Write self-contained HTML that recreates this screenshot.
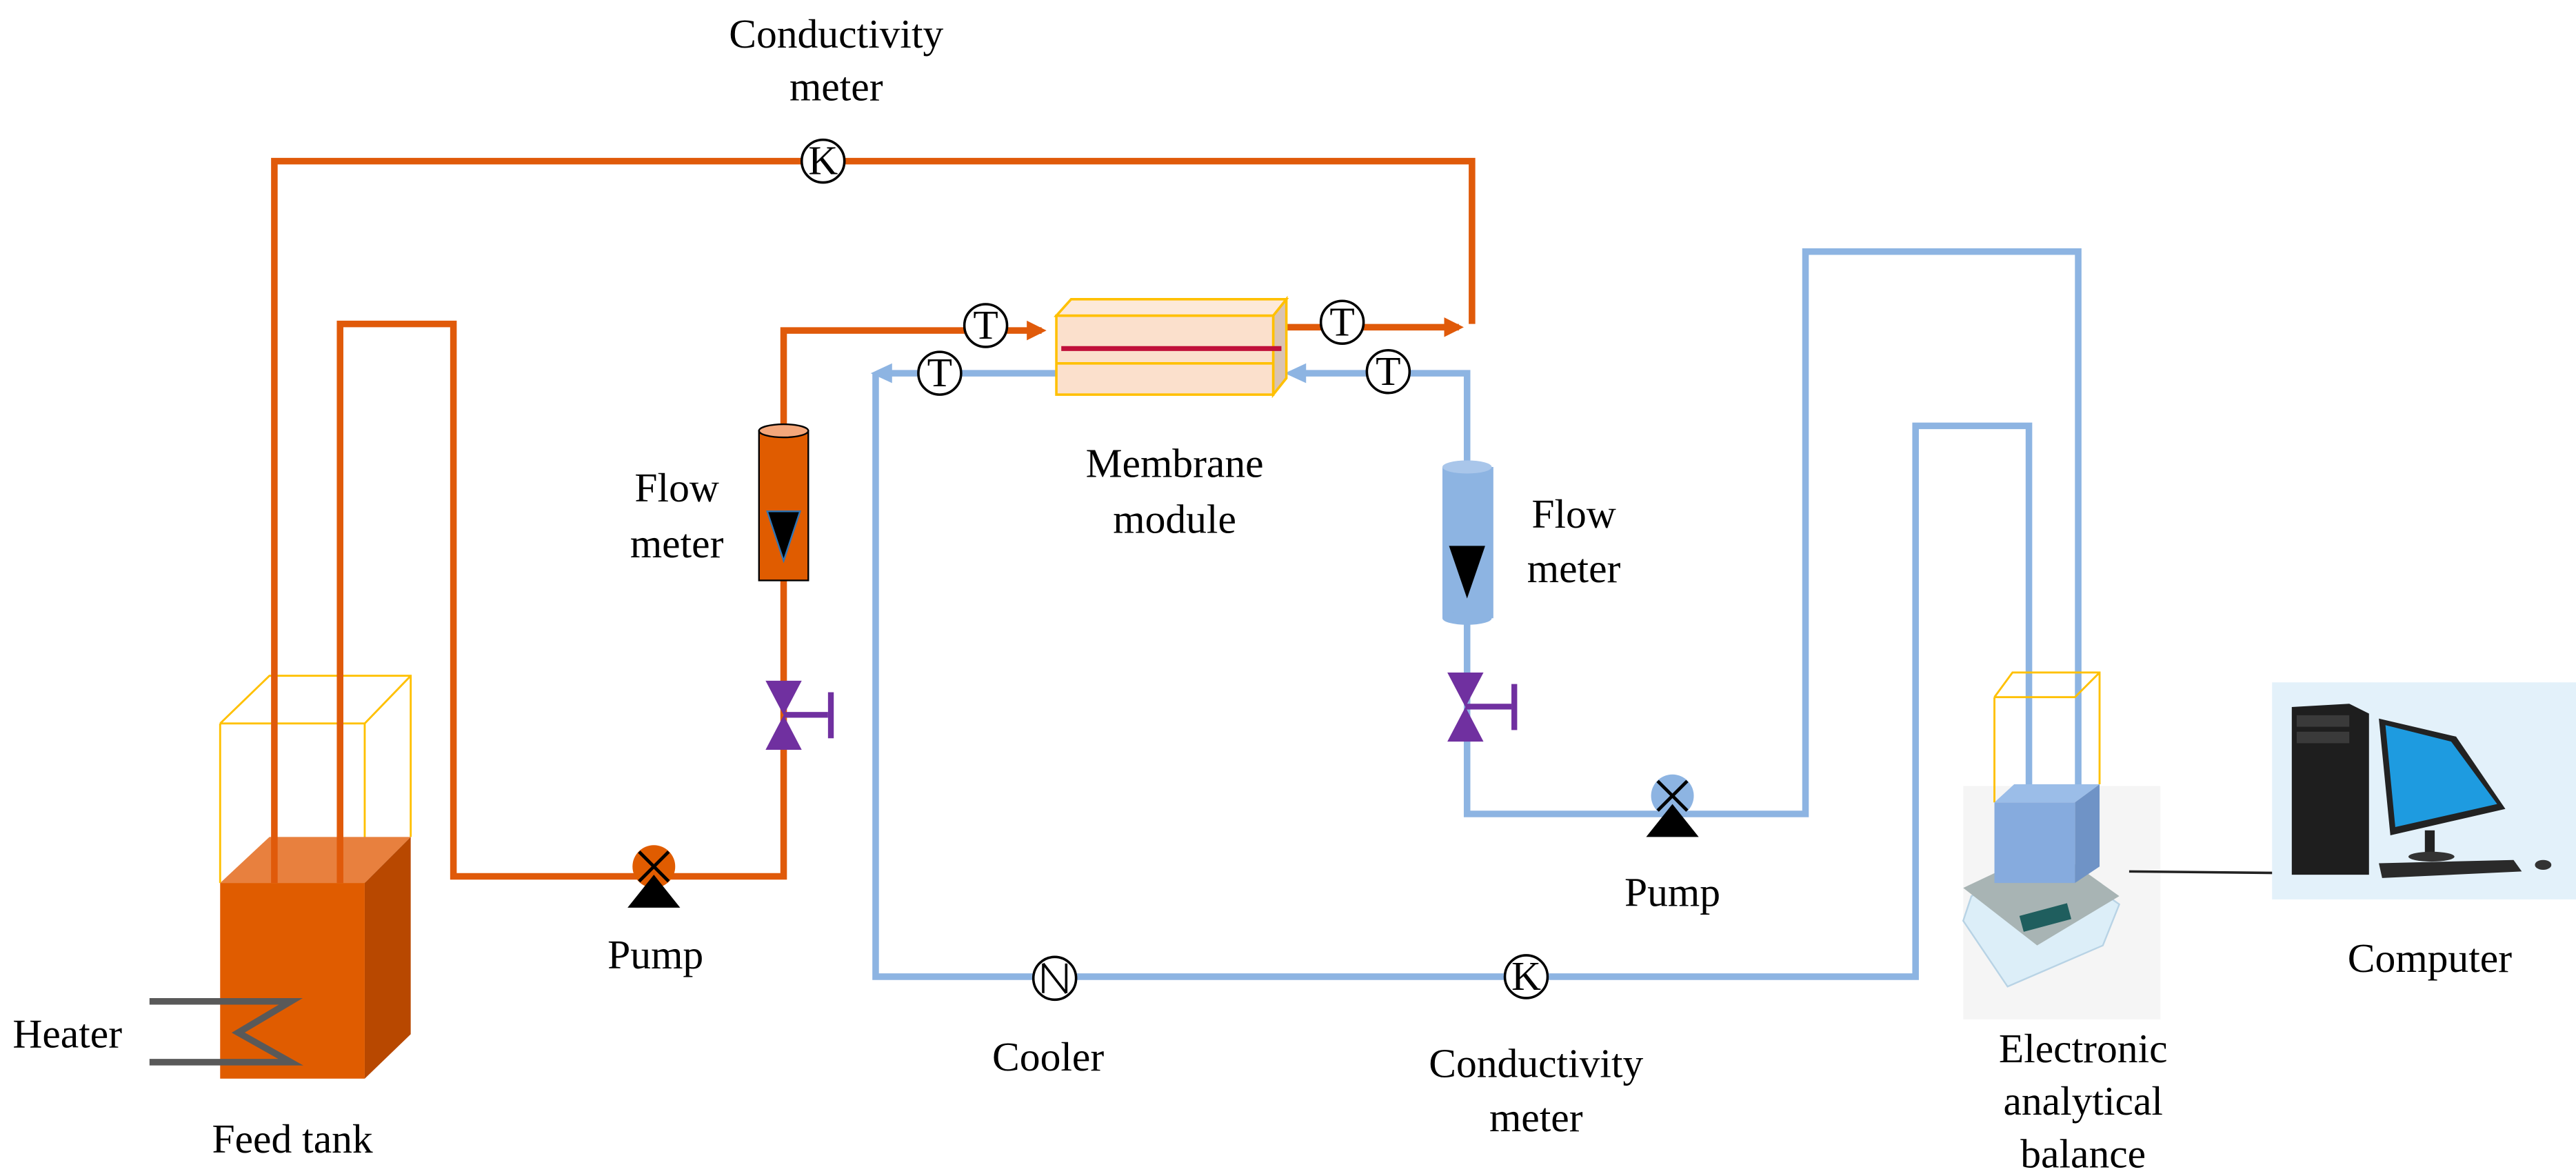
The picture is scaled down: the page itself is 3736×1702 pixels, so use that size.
<!DOCTYPE html>
<html><head><meta charset="utf-8"><style>
html,body{margin:0;padding:0;background:#fff}
svg{display:block}
text{font-family:"Liberation Serif","Times New Roman","DejaVu Serif",serif;font-size:25px;fill:#000}
</style></head><body>
<svg width="3736" height="1702" viewBox="0 0 1568 714" preserveAspectRatio="none" xmlns="http://www.w3.org/2000/svg" font-family="Liberation Serif, Times New Roman, DejaVu Serif, serif">
<rect width="1568" height="714" fill="#fff"/>
<defs>
<marker id="ao" markerWidth="12" markerHeight="12" refX="9" refY="6" orient="auto" markerUnits="userSpaceOnUse"><path d="M0,0 L12,6 L0,12 Z" fill="#E05A0A"/></marker>
</defs>
<g fill="none" stroke="#FFC000" stroke-width="1.2">
<path d="M134,440 L164,411 L250,411 L250,509 M134,440 L222,440 L250,411 M134,440 L134,537 M222,440 L222,537"/>
</g>
<polygon points="134,537 164,509 250,509 222,537" fill="#E8803E"/>
<polygon points="222,537 250,509 250,629 222,656" fill="#B84800"/>
<rect x="134" y="537" width="88" height="119" fill="#E05C00"/>
<g fill="none" stroke="#E05A0A" stroke-width="4">
<path d="M167,537 L167,98 L896,98 L896,197"/>
<path d="M207,537 L207,197 L276,197 L276,533 L477,533 L477,201 L634,201" marker-end="url(#ao)"/>
<path d="M783,199 L888,199" marker-end="url(#ao)"/>
</g>
<path d="M91,609 L177,609 L145,628 L177,646 L91,646" fill="none" stroke="#595959" stroke-width="4"/>
<g fill="none" stroke="#8DB4E2" stroke-width="4">
<path d="M643,227 L542,227 M533,227 L533,594 L1166,594 L1166,259 L1235,259 L1235,480"/>
<path d="M893,281 L893,227 L794,227"/>
<path d="M893,379 L893,495 L1099,495 L1099,153 L1265,153 L1265,480"/>
</g>
<path d="M530,227 L543,221 L543,233 Z" fill="#8DB4E2"/>
<path d="M782,227 L795,221 L795,233 Z" fill="#8DB4E2"/>
<polygon points="643,192 652,182 783,182 775,192" fill="#FDE9D9" stroke="#FFC000" stroke-width="1.5"/>
<polygon points="775,192 783,182 783,230 775,240" fill="#D9C3B3" stroke="#FFC000" stroke-width="1.5"/>
<rect x="643" y="192" width="132" height="48" fill="#FBE0CC" stroke="#FFC000" stroke-width="1.5"/>
<line x1="643" y1="221" x2="775" y2="221" stroke="#FFC000" stroke-width="1.5"/>
<line x1="646" y1="212" x2="780" y2="212" stroke="#C0103A" stroke-width="3"/>
<rect x="462" y="262" width="30" height="91" fill="#E05C00" stroke="#000" stroke-width="1"/>
<ellipse cx="477" cy="262" rx="15" ry="4" fill="#F4A77A" stroke="#000" stroke-width="1"/>
<path d="M467,311 L487,311 L477,341 Z" fill="#000" stroke="#2E75B6" stroke-width="1"/>
<rect x="878" y="284" width="31" height="92" fill="#8DB4E2"/>
<ellipse cx="893" cy="284" rx="15" ry="4" fill="#A9C6EA"/>
<ellipse cx="893" cy="376" rx="15" ry="4" fill="#8DB4E2"/>
<path d="M882,332 L904,332 L893,364 Z" fill="#000"/>
<g fill="#7030A0">
<path d="M466,414 L488,414 L477,435 Z M466,456 L488,456 L477,435 Z"/>
<rect x="477" y="433" width="27" height="3.5"/><rect x="504" y="421" width="3.5" height="28"/>
<path d="M881,409 L903,409 L892,430 Z M881,451 L903,451 L892,430 Z"/>
<rect x="892" y="428" width="28" height="3.5"/><rect x="920" y="416" width="3.5" height="28"/>
</g>
<circle cx="398" cy="527" r="13" fill="#E05C00"/>
<path d="M382,552 L414,552 L398,532 Z" fill="#000"/>
<path d="M389,518 L407,536 M407,518 L389,536" stroke="#000" stroke-width="2"/>
<circle cx="1018" cy="484" r="13" fill="#8DB4E2"/>
<path d="M1002,509 L1034,509 L1018,489 Z" fill="#000"/>
<path d="M1009,475 L1027,493 M1027,475 L1009,493" stroke="#000" stroke-width="2"/>
<g fill="#fff" stroke="#000" stroke-width="1.5">
<circle cx="501" cy="98" r="13"/>
<circle cx="600" cy="198" r="13"/>
<circle cx="572" cy="227" r="13"/>
<circle cx="817" cy="196" r="13"/>
<circle cx="845" cy="226" r="13"/>
<circle cx="642" cy="595" r="13"/>
<circle cx="929" cy="594" r="13"/>
</g>
<path d="M635,586 L649,604 M635,586 L635,604 M649,586 L649,604" stroke="#000" stroke-width="1.5" fill="none"/>
<g text-anchor="middle" style="font-size:22px">
<text x="501" y="106">K</text>
<text x="600" y="206">T</text>
<text x="572" y="235">T</text>
<text x="817" y="204">T</text>
<text x="845" y="234">T</text>
<text x="929" y="602">K</text>
</g>
<rect x="1195" y="478" width="120" height="142" fill="#F5F5F5"/>
<polygon points="1195,560 1200,545 1248,520 1290,550 1280,575 1222,600" fill="#DCEEF8" stroke="#B8D3E5" stroke-width="1"/>
<polygon points="1195,540 1248,515 1290,545 1240,575" fill="#A8B4B4"/>
<rect x="1230" y="553" width="30" height="10" fill="#1F5E5E" transform="rotate(-15 1245 558)"/>
<g fill="none" stroke="#FFC000" stroke-width="1.2">
<path d="M1214,424 L1225,409 L1278,409 L1278,477 M1214,424 L1263,424 L1278,409 M1214,424 L1214,488"/>
</g>
<polygon points="1214,488 1226,477 1278,477 1263,488" fill="#9BBDE8"/>
<polygon points="1263,488 1278,477 1278,527 1263,537" fill="#6F93C6"/>
<rect x="1214" y="488" width="49" height="49" fill="#86ABDE"/>
<line x1="1296" y1="530" x2="1396" y2="531" stroke="#222" stroke-width="1.5"/>
<rect x="1383" y="415" width="185" height="132" fill="#E3F1FA"/>
<polygon points="1395,430 1430,428 1442,434 1442,532 1395,532" fill="#1E1E1E"/>
<rect x="1398" y="435" width="32" height="7" fill="#3A3A3A"/>
<rect x="1398" y="445" width="32" height="7" fill="#3A3A3A"/>
<polygon points="1448,437 1495,448 1525,492 1455,508" fill="#222"/>
<polygon points="1452,441 1492,451 1520,489 1458,503" fill="#1E9BE0"/>
<rect x="1476" y="505" width="6" height="14" fill="#222"/>
<ellipse cx="1480" cy="521" rx="14" ry="3" fill="#333"/>
<polygon points="1448,525 1530,523 1535,530 1450,534" fill="#2A2A2A"/>
<ellipse cx="1548" cy="526" rx="5" ry="3" fill="#333"/>
<g text-anchor="middle" font-family="Liberation Serif, Times New Roman, DejaVu Serif, serif" font-size="25">
<text x="509" y="29">Conductivity</text>
<text x="509" y="61">meter</text>
<text x="412" y="305">Flow</text>
<text x="412" y="339">meter</text>
<text x="715" y="290">Membrane</text>
<text x="715" y="324">module</text>
<text x="958" y="321">Flow</text>
<text x="958" y="354">meter</text>
<text x="399" y="589">Pump</text>
<text x="1018" y="551">Pump</text>
<text x="638" y="651">Cooler</text>
<text x="935" y="655">Conductivity</text>
<text x="935" y="688">meter</text>
<text x="1479" y="591">Computer</text>
<text x="1268" y="646">Electronic</text>
<text x="1268" y="678">analytical</text>
<text x="1268" y="710">balance</text>
<text x="178" y="701">Feed tank</text>
<text x="41" y="637">Heater</text>
</g>
</svg>
</body></html>
